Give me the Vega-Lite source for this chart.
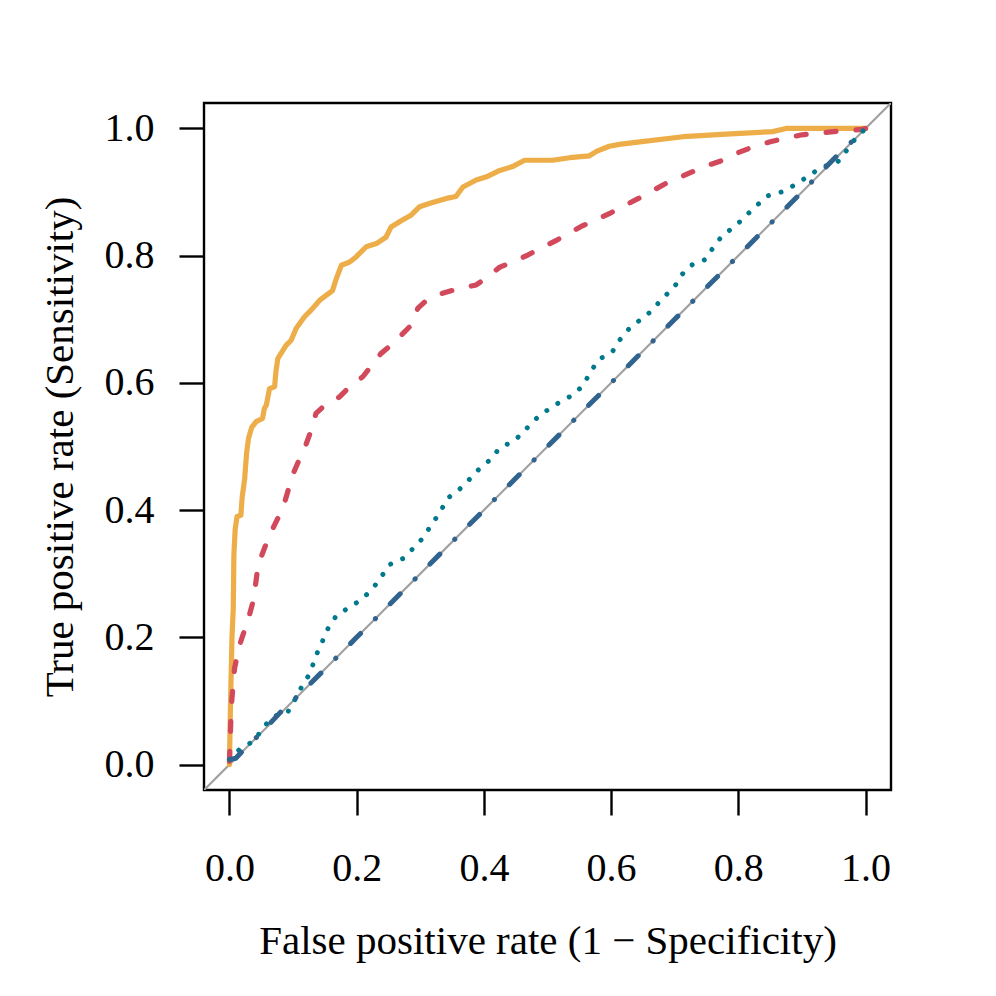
{
  "$schema": "https://vega.github.io/schema/vega-lite/v6.json",
  "width": 687,
  "height": 687,
  "autosize": {"type": "none"},
  "padding": {"left": 204, "top": 103, "right": 105, "bottom": 206},
  "background": "white",
  "config": {
    "view": {"stroke": "black", "strokeWidth": 2.4},
    "font": "Liberation Serif"
  },
  "datasets": {
    "diag": [{"fpr": -0.04, "tpr": -0.04}, {"fpr": 1.04, "tpr": 1.04}],
    "orange": [
      {"fpr": 0.0, "tpr": 0.0}, {"fpr": 0.001, "tpr": 0.06}, {"fpr": 0.002, "tpr": 0.11}, {"fpr": 0.004, "tpr": 0.2},
      {"fpr": 0.006, "tpr": 0.245}, {"fpr": 0.007, "tpr": 0.33}, {"fpr": 0.009, "tpr": 0.37}, {"fpr": 0.012, "tpr": 0.39},
      {"fpr": 0.018, "tpr": 0.392}, {"fpr": 0.02, "tpr": 0.42}, {"fpr": 0.024, "tpr": 0.45}, {"fpr": 0.027, "tpr": 0.49},
      {"fpr": 0.03, "tpr": 0.513}, {"fpr": 0.035, "tpr": 0.53}, {"fpr": 0.042, "tpr": 0.539}, {"fpr": 0.052, "tpr": 0.544},
      {"fpr": 0.055, "tpr": 0.56}, {"fpr": 0.058, "tpr": 0.565}, {"fpr": 0.063, "tpr": 0.591}, {"fpr": 0.071, "tpr": 0.594},
      {"fpr": 0.073, "tpr": 0.617}, {"fpr": 0.076, "tpr": 0.638}, {"fpr": 0.089, "tpr": 0.659}, {"fpr": 0.097, "tpr": 0.667},
      {"fpr": 0.105, "tpr": 0.686}, {"fpr": 0.118, "tpr": 0.704}, {"fpr": 0.128, "tpr": 0.714}, {"fpr": 0.142, "tpr": 0.73},
      {"fpr": 0.162, "tpr": 0.745}, {"fpr": 0.168, "tpr": 0.764}, {"fpr": 0.176, "tpr": 0.785}, {"fpr": 0.189, "tpr": 0.79},
      {"fpr": 0.199, "tpr": 0.798}, {"fpr": 0.215, "tpr": 0.814}, {"fpr": 0.231, "tpr": 0.819}, {"fpr": 0.246, "tpr": 0.829},
      {"fpr": 0.254, "tpr": 0.845}, {"fpr": 0.27, "tpr": 0.855}, {"fpr": 0.286, "tpr": 0.864}, {"fpr": 0.299, "tpr": 0.877},
      {"fpr": 0.314, "tpr": 0.882}, {"fpr": 0.341, "tpr": 0.89}, {"fpr": 0.356, "tpr": 0.893}, {"fpr": 0.367, "tpr": 0.908},
      {"fpr": 0.388, "tpr": 0.919}, {"fpr": 0.404, "tpr": 0.924}, {"fpr": 0.425, "tpr": 0.934}, {"fpr": 0.445, "tpr": 0.94},
      {"fpr": 0.464, "tpr": 0.95}, {"fpr": 0.508, "tpr": 0.95}, {"fpr": 0.535, "tpr": 0.954}, {"fpr": 0.566, "tpr": 0.957},
      {"fpr": 0.577, "tpr": 0.964}, {"fpr": 0.597, "tpr": 0.972}, {"fpr": 0.613, "tpr": 0.975}, {"fpr": 0.645, "tpr": 0.979},
      {"fpr": 0.713, "tpr": 0.987}, {"fpr": 0.781, "tpr": 0.991}, {"fpr": 0.854, "tpr": 0.995}, {"fpr": 0.875, "tpr": 1.0},
      {"fpr": 1.0, "tpr": 1.0}
    ],
    "red": [
      {"fpr": 0.0, "tpr": 0.005}, {"fpr": 0.003, "tpr": 0.093}, {"fpr": 0.008, "tpr": 0.151}, {"fpr": 0.015, "tpr": 0.185},
      {"fpr": 0.021, "tpr": 0.203}, {"fpr": 0.03, "tpr": 0.23}, {"fpr": 0.037, "tpr": 0.256}, {"fpr": 0.042, "tpr": 0.29},
      {"fpr": 0.045, "tpr": 0.313}, {"fpr": 0.055, "tpr": 0.34}, {"fpr": 0.063, "tpr": 0.36}, {"fpr": 0.075, "tpr": 0.385},
      {"fpr": 0.084, "tpr": 0.403}, {"fpr": 0.092, "tpr": 0.43}, {"fpr": 0.097, "tpr": 0.45}, {"fpr": 0.11, "tpr": 0.48},
      {"fpr": 0.12, "tpr": 0.502}, {"fpr": 0.13, "tpr": 0.53}, {"fpr": 0.136, "tpr": 0.552}, {"fpr": 0.15, "tpr": 0.565},
      {"fpr": 0.173, "tpr": 0.578}, {"fpr": 0.19, "tpr": 0.595}, {"fpr": 0.21, "tpr": 0.61}, {"fpr": 0.238, "tpr": 0.646},
      {"fpr": 0.255, "tpr": 0.66}, {"fpr": 0.27, "tpr": 0.675}, {"fpr": 0.285, "tpr": 0.69}, {"fpr": 0.296, "tpr": 0.717},
      {"fpr": 0.31, "tpr": 0.73}, {"fpr": 0.335, "tpr": 0.741}, {"fpr": 0.36, "tpr": 0.748}, {"fpr": 0.388, "tpr": 0.754},
      {"fpr": 0.41, "tpr": 0.77}, {"fpr": 0.425, "tpr": 0.782}, {"fpr": 0.45, "tpr": 0.792}, {"fpr": 0.469, "tpr": 0.801},
      {"fpr": 0.49, "tpr": 0.812}, {"fpr": 0.514, "tpr": 0.824}, {"fpr": 0.535, "tpr": 0.836}, {"fpr": 0.553, "tpr": 0.846},
      {"fpr": 0.575, "tpr": 0.856}, {"fpr": 0.597, "tpr": 0.866}, {"fpr": 0.62, "tpr": 0.878}, {"fpr": 0.643, "tpr": 0.89},
      {"fpr": 0.665, "tpr": 0.902}, {"fpr": 0.687, "tpr": 0.914}, {"fpr": 0.71, "tpr": 0.924}, {"fpr": 0.728, "tpr": 0.932},
      {"fpr": 0.755, "tpr": 0.943}, {"fpr": 0.776, "tpr": 0.95}, {"fpr": 0.8, "tpr": 0.962}, {"fpr": 0.823, "tpr": 0.971},
      {"fpr": 0.85, "tpr": 0.979}, {"fpr": 0.875, "tpr": 0.985}, {"fpr": 0.9, "tpr": 0.99}, {"fpr": 0.93, "tpr": 0.993},
      {"fpr": 0.96, "tpr": 0.996}, {"fpr": 0.991, "tpr": 0.998}, {"fpr": 1.0, "tpr": 1.0}
    ],
    "teal": [
      {"fpr": 0.0, "tpr": 0.008}, {"fpr": 0.018, "tpr": 0.026}, {"fpr": 0.039, "tpr": 0.037}, {"fpr": 0.052, "tpr": 0.057},
      {"fpr": 0.068, "tpr": 0.075}, {"fpr": 0.092, "tpr": 0.083}, {"fpr": 0.104, "tpr": 0.104}, {"fpr": 0.115, "tpr": 0.125},
      {"fpr": 0.127, "tpr": 0.144}, {"fpr": 0.135, "tpr": 0.169}, {"fpr": 0.145, "tpr": 0.191}, {"fpr": 0.155, "tpr": 0.214},
      {"fpr": 0.168, "tpr": 0.234}, {"fpr": 0.188, "tpr": 0.247}, {"fpr": 0.207, "tpr": 0.259}, {"fpr": 0.224, "tpr": 0.275},
      {"fpr": 0.238, "tpr": 0.294}, {"fpr": 0.251, "tpr": 0.314}, {"fpr": 0.273, "tpr": 0.324}, {"fpr": 0.289, "tpr": 0.34},
      {"fpr": 0.305, "tpr": 0.357}, {"fpr": 0.318, "tpr": 0.378}, {"fpr": 0.331, "tpr": 0.396}, {"fpr": 0.342, "tpr": 0.418},
      {"fpr": 0.361, "tpr": 0.432}, {"fpr": 0.377, "tpr": 0.448}, {"fpr": 0.393, "tpr": 0.465}, {"fpr": 0.411, "tpr": 0.48},
      {"fpr": 0.425, "tpr": 0.498}, {"fpr": 0.448, "tpr": 0.509}, {"fpr": 0.464, "tpr": 0.525}, {"fpr": 0.48, "tpr": 0.542},
      {"fpr": 0.498, "tpr": 0.556}, {"fpr": 0.518, "tpr": 0.569}, {"fpr": 0.54, "tpr": 0.581}, {"fpr": 0.556, "tpr": 0.596},
      {"fpr": 0.568, "tpr": 0.618}, {"fpr": 0.581, "tpr": 0.637}, {"fpr": 0.602, "tpr": 0.649}, {"fpr": 0.614, "tpr": 0.668},
      {"fpr": 0.629, "tpr": 0.686}, {"fpr": 0.647, "tpr": 0.7}, {"fpr": 0.666, "tpr": 0.715}, {"fpr": 0.68, "tpr": 0.733},
      {"fpr": 0.698, "tpr": 0.748}, {"fpr": 0.71, "tpr": 0.769}, {"fpr": 0.726, "tpr": 0.785}, {"fpr": 0.748, "tpr": 0.794},
      {"fpr": 0.762, "tpr": 0.815}, {"fpr": 0.776, "tpr": 0.833}, {"fpr": 0.795, "tpr": 0.846}, {"fpr": 0.811, "tpr": 0.862},
      {"fpr": 0.828, "tpr": 0.878}, {"fpr": 0.846, "tpr": 0.894}, {"fpr": 0.871, "tpr": 0.901}, {"fpr": 0.892, "tpr": 0.913},
      {"fpr": 0.911, "tpr": 0.926}, {"fpr": 0.931, "tpr": 0.939}, {"fpr": 0.956, "tpr": 0.947}, {"fpr": 0.97, "tpr": 0.965},
      {"fpr": 0.984, "tpr": 0.984}, {"fpr": 1.0, "tpr": 1.0}
    ],
    "blue": [
      {"fpr": 0.001, "tpr": 0.008}, {"fpr": 0.01, "tpr": 0.01}, {"fpr": 0.025, "tpr": 0.026}, {"fpr": 0.05, "tpr": 0.05},
      {"fpr": 0.08, "tpr": 0.082}, {"fpr": 0.12, "tpr": 0.12}, {"fpr": 0.2, "tpr": 0.2}, {"fpr": 0.3, "tpr": 0.3},
      {"fpr": 0.4, "tpr": 0.4}, {"fpr": 0.5, "tpr": 0.5}, {"fpr": 0.6, "tpr": 0.6}, {"fpr": 0.7, "tpr": 0.7},
      {"fpr": 0.8, "tpr": 0.8}, {"fpr": 0.9, "tpr": 0.9}, {"fpr": 0.95, "tpr": 0.952}, {"fpr": 1.0, "tpr": 1.0}
    ]
  },
  "encoding": {
    "x": {
      "field": "fpr", "type": "quantitative",
      "scale": {"domain": [-0.04, 1.04], "nice": false, "zero": false},
      "axis": {
        "values": [0, 0.2, 0.4, 0.6, 0.8, 1.0], "format": ".1f",
        "title": "False positive rate (1 − Specificity)",
        "domain": false, "grid": false,
        "tickSize": 25, "tickWidth": 2.4, "tickColor": "black",
        "labelFont": "Liberation Serif", "labelFontSize": 40, "labelColor": "black",
        "labelPadding": 53, "labelBaseline": "middle", "labelFlush": false, "labelOverlap": false,
        "titleFont": "Liberation Serif", "titleFontSize": 41, "titleFontWeight": "normal", "titleColor": "black",
        "titleX": 343.5, "titleY": 163, "titleBaseline": "alphabetic"
      }
    },
    "y": {
      "field": "tpr", "type": "quantitative",
      "scale": {"domain": [-0.04, 1.04], "nice": false, "zero": false},
      "axis": {
        "values": [0, 0.2, 0.4, 0.6, 0.8, 1.0], "format": ".1f",
        "title": "True positive rate (Sensitivity)",
        "domain": false, "grid": false,
        "tickSize": 25, "tickWidth": 2.4, "tickColor": "black",
        "labelFont": "Liberation Serif", "labelFontSize": 40, "labelColor": "black",
        "labelPadding": 25, "labelAlign": "right", "labelBaseline": "middle", "labelFlush": false, "labelOverlap": false,
        "titleFont": "Liberation Serif", "titleFontSize": 41, "titleFontWeight": "normal", "titleColor": "black",
        "titleAngle": -90, "titleX": -132, "titleY": 343.5, "titleBaseline": "alphabetic", "titleAlign": "center"
      }
    }
  },
  "layer": [
    {"data": {"name": "diag"}, "mark": {"type": "line", "color": "#A0A0A0", "strokeWidth": 2.2, "clip": true}},
    {"data": {"name": "orange"}, "mark": {"type": "line", "color": "#EDAE49", "strokeWidth": 5.2, "strokeJoin": "round", "strokeCap": "round", "clip": true}},
    {"data": {"name": "red"}, "mark": {"type": "line", "color": "#D1495B", "strokeWidth": 5.2, "strokeDash": [10, 20], "strokeJoin": "round", "strokeCap": "round", "clip": true}},
    {"data": {"name": "teal"}, "mark": {"type": "line", "color": "#00798C", "strokeWidth": 4.9, "strokeDash": [0.1, 13], "strokeJoin": "round", "strokeCap": "round", "clip": true}},
    {"data": {"name": "blue"}, "mark": {"type": "line", "color": "#30638E", "strokeWidth": 5, "strokeDash": [14, 21, 0.1, 21], "strokeJoin": "round", "strokeCap": "round", "clip": true}}
  ]
}
